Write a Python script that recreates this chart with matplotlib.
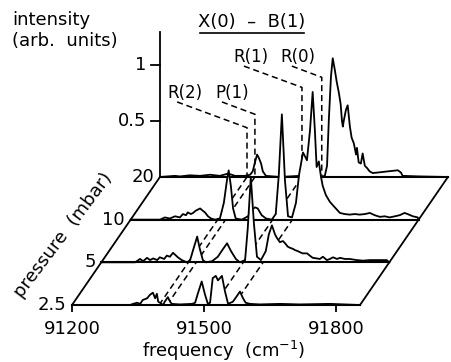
import numpy as np
import matplotlib
matplotlib.use("Agg")
import matplotlib.pyplot as plt

# pressure of each spectrum, front to back (mbar)
pressures = ["2.5", "5", "10", "20"]

# spectra: frequency (cm-1) and intensity (arb. units)
freq_25 = [91200, 91332, 91339, 91348, 91355, 91361, 91371, 91377, 91384, 91389, 91393, 91396, 91400,
           91407, 91411, 91418, 91423, 91427, 91445, 91473, 91480, 91486, 91495, 91502, 91509, 91514,
           91520, 91527, 91532, 91541, 91548, 91555, 91566, 91575, 91582, 91589, 91595, 91605, 91627,
           91673, 91718, 91786, 91855]
int_25 = [0, 0, 0.01, 0.02, 0.01, 0.045, 0.06, 0.09, 0.11, 0.06, 0.10, 0.03, 0.02,
          0, 0.03, 0.07, 0.03, 0.01, 0.005, 0.01, 0.02, 0.10, 0.21, 0.10, 0.01, 0.02,
          0.24, 0.26, 0.22, 0.26, 0.12, 0.01, 0.03, 0.08, 0.12, 0.06, 0.02, 0.01, 0.005,
          0.01, 0.005, 0.01, 0]

freq_5 = [91200, 91277, 91288, 91295, 91304, 91311, 91318, 91327, 91333, 91343, 91349, 91356, 91363,
          91370, 91374, 91383, 91395, 91402, 91408, 91418, 91424, 91431, 91438, 91452, 91465, 91477,
          91486, 91495, 91506, 91515, 91527, 91533, 91540, 91547, 91554, 91563, 91574, 91581, 91588,
          91595, 91599, 91606, 91613, 91618, 91624, 91629, 91636, 91640, 91647, 91652, 91658, 91668,
          91674, 91681, 91690, 91697, 91704, 91713, 91720, 91727, 91736, 91743, 91754, 91765, 91781,
          91795, 91811, 91833, 91849, 91855]
int_5 = [0, 0, 0.03, 0.01, 0.04, 0.02, 0.035, 0.02, 0.045, 0.03, 0.06, 0.05, 0.085,
         0.06, 0.045, 0.02, 0, 0.02, 0.10, 0.23, 0.12, 0.02, 0, 0.01, 0.05, 0.12,
         0.17, 0.10, 0.03, 0, 0.02, 0.30, 0.76, 0.35, 0.05, 0.02, 0.10, 0.25, 0.33,
         0.25, 0.22, 0.18, 0.19, 0.17, 0.14, 0.13, 0.12, 0.11, 0.10, 0.09, 0.08, 0.08,
         0.06, 0.04, 0.035, 0.03, 0.05, 0.02, 0.03, 0.045, 0.03, 0.04, 0.03, 0.03, 0.02,
         0.015, 0.02, 0.02, 0.02, 0]

freq_10 = [91200, 91267, 91278, 91289, 91301, 91312, 91319, 91326, 91330, 91337, 91342, 91348, 91358,
           91364, 91369, 91376, 91383, 91392, 91403, 91412, 91419, 91423, 91428, 91433, 91439, 91453,
           91467, 91476, 91483, 91489, 91498, 91508, 91521, 91530, 91537, 91544, 91551, 91558, 91567,
           91576, 91583, 91592, 91596, 91601, 91608, 91614, 91619, 91623, 91628, 91633, 91637, 91644,
           91653, 91662, 91669, 91676, 91687, 91698, 91710, 91721, 91733, 91744, 91755, 91767, 91778,
           91789, 91801, 91812, 91823, 91830, 91842, 91853, 91855]
int_10 = [0, 0, 0.02, 0.01, 0.03, 0.02, 0.05, 0.04, 0.065, 0.05, 0.06, 0.08, 0.10,
          0.08, 0.065, 0.03, 0.01, 0, 0.01, 0.15, 0.35, 0.44, 0.30, 0.10, 0.01, 0,
          0.03, 0.09, 0.11, 0.10, 0.04, 0.01, 0, 0.05, 0.40, 0.94, 0.35, 0.03, 0.02,
          0.15, 0.40, 0.60, 0.57, 0.53, 0.80, 1.14, 0.80, 0.47, 0.52, 0.38, 0.30, 0.22,
          0.16, 0.12, 0.09, 0.06, 0.05, 0.045, 0.05, 0.045, 0.05, 0.06, 0.04, 0.025, 0.03,
          0.02, 0.03, 0.04, 0.06, 0.05, 0.03, 0.02, 0]

freq_20 = [91200, 91234, 91246, 91268, 91291, 91314, 91336, 91355, 91371, 91393, 91405, 91411, 91416,
           91421, 91425, 91430, 91434, 91441, 91473, 91518, 91564, 91575, 91580, 91584, 91589, 91593,
           91598, 91602, 91607, 91611, 91614, 91616, 91618, 91623, 91627, 91632, 91636, 91641, 91646,
           91648, 91652, 91657, 91661, 91666, 91671, 91677, 91684, 91696, 91707, 91718, 91730, 91741,
           91748, 91752, 91791, 91855]
int_20 = [0, 0.01, 0.005, 0.015, 0.01, 0.02, 0.01, 0.03, 0.01, 0.01, 0.02, 0.05, 0.13,
          0.20, 0.17, 0.12, 0.05, 0.01, 0, 0.01, 0, 0.01, 0.10, 0.50, 0.90, 1.06,
          0.95, 0.85, 0.75, 0.65, 0.50, 0.45, 0.50, 0.60, 0.64, 0.45, 0.35, 0.30, 0.20,
          0.26, 0.13, 0.12, 0.21, 0.10, 0.08, 0.05, 0.035, 0.04, 0.045, 0.05, 0.055, 0.06,
          0.04, 0.01, 0.005, 0]

# assigned lines X(0) - B(1) and their positions (cm-1)
line_labels = ["R(2)", "P(1)", "R(1)", "R(0)"]
line_freq = [91398, 91416, 91523, 91568]

freq_ticks = [91200, 91500, 91800]
int_ticks = [0.5, 1]

# ---- layout of the pseudo 3d waterfall ----
fmin, fmax = 91200, 91855
DX = 66.67    # shift per spectrum along frequency
DY = 0.381    # shift per spectrum along intensity

# leader lines: start point, elbow height, label position (in the back plane)
lead_start = [(91239, 0.67), (91341, 0.67), (91391, 0.99), (91500, 0.99)]
lead_elbow = [0.44, 0.56, 0.80, 0.89]
lab_pos = [(91257, 0.75), (91364, 0.75), (91407, 1.07), (91514, 1.07)]

fig = plt.figure(figsize=(4.51, 3.62), dpi=100)
ax = fig.add_axes([72 / 451, 57 / 362, 288 / 451, 305 / 362])
ax.set_xlim(fmin, fmax)
ax.set_ylim(0, 305 / 112)
ax.patch.set_alpha(0)
for s in ["left", "right", "top"]:
    ax.spines[s].set_visible(False)
ax.spines["bottom"].set_linewidth(1.5)
ax.spines["bottom"].set_zorder(8.5)
ax.set_xticks(freq_ticks)
ax.set_xticklabels([str(t) for t in freq_ticks])
ax.set_yticks([])
ax.tick_params(axis="x", direction="out", length=5, width=1.3, pad=6, labelsize=13)

# floor edges
for f0 in [fmin, fmax]:
    ax.plot([f0, f0 + 3 * DX], [0, 3 * DY], color="black", lw=1.3, zorder=1, clip_on=False)

traces = [(freq_25, int_25), (freq_5, int_5), (freq_10, int_10), (freq_20, int_20)]
for k, (f, h) in enumerate(traces):
    x = np.array(f) + k * DX
    y = np.array(h) + k * DY
    z = 8 - 2 * k
    ax.fill_between(x, k * DY, y, color="white", lw=0, zorder=z, clip_on=False)
    ax.plot(x, y, color="black", lw=1.3, zorder=z + 0.5, clip_on=False)
    if k > 0:
        ax.plot([fmin + k * DX, fmax + k * DX], [k * DY, k * DY], color="black", lw=1.5,
                zorder=z + 0.5, clip_on=False)
    ax.text(fmin + k * DX - 13, k * DY, pressures[k], ha="right", va="center", fontsize=13)

# intensity axis at the back
x0 = fmin + 3 * DX
ax.plot([x0, x0], [3 * DY, 3 * DY + 1.295], color="black", lw=1.3, zorder=3, clip_on=False)
for v in int_ticks:
    ax.plot([x0 - 21, x0], [3 * DY + v, 3 * DY + v], color="black", lw=1.3, zorder=3, clip_on=False)
    ax.text(x0 - 30, 3 * DY + v, f"{v:g}", ha="right", va="center", fontsize=13)

# dashed lines: line positions through the pressures, plus leaders to labels
dash = dict(color="black", lw=1.1, ls=(0, (4, 2.5)), zorder=3, clip_on=False)
for i, lf in enumerate(line_freq):
    ax.plot([lf, lf + 3 * DX], [0, 3 * DY], **dash)
    sx, sy = lead_start[i]
    ax.plot([sx + 3 * DX, lf + 3 * DX, lf + 3 * DX],
            [sy + 3 * DY, lead_elbow[i] + 3 * DY, 3 * DY], **dash)
    lx, ly = lab_pos[i]
    ax.text(lx + 3 * DX, ly + 3 * DY, line_labels[i], ha="center", va="center", fontsize=12)

# title with underline
ax.text(91608, 2.527, "X(0)  \u2013  B(1)", ha="center", va="center", fontsize=13)
ax.plot([91491, 91727], [2.43, 2.43], color="black", lw=1.2, clip_on=False)

fig.text(12 / 451, 1 - 20 / 362, "intensity", ha="left", va="center", fontsize=13)
fig.text(12 / 451, 1 - 41 / 362, "(arb.  units)", ha="left", va="center", fontsize=13)
fig.text(224 / 451, 1 - 351 / 362, r"frequency  (cm$^{-1}$)", ha="center", va="center", fontsize=13)
fig.text(63 / 451, 1 - 235 / 362, "pressure  (mbar)", ha="center", va="center", fontsize=13,
         rotation=53, rotation_mode="anchor")

fig.savefig("out.png", dpi=100, facecolor="white")
